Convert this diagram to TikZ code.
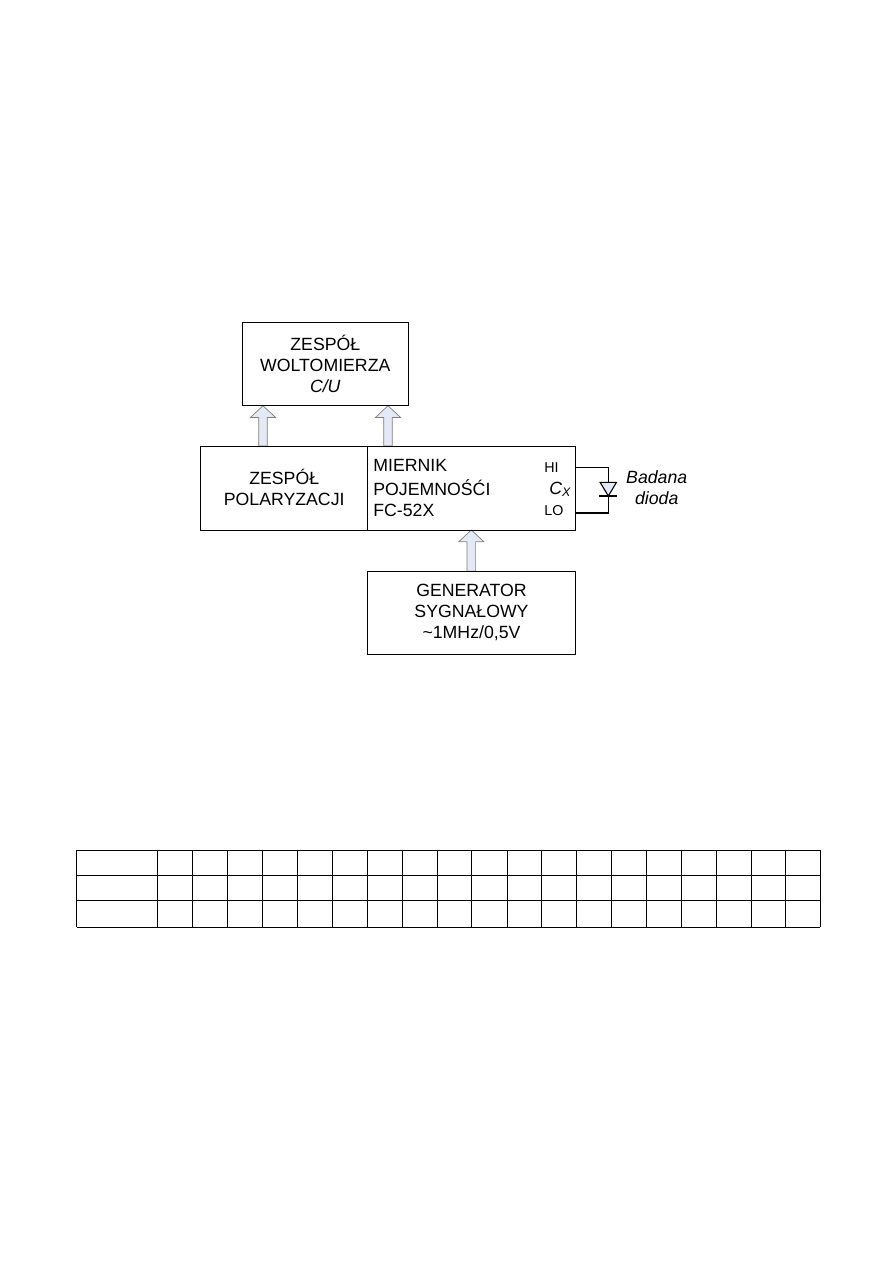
\documentclass[tikz,border=0pt]{standalone}
\usepackage{fontspec}
\setmainfont{Liberation Sans}
\definecolor{arrowblue}{HTML}{E3EAF5}
\begin{document}
\begin{tikzpicture}[x=1pt, y=-1pt, thick,
		box/.style={draw=black, line width=1.1pt, inner sep=0pt, align=center, font=\boxfont},
		lbl/.style={inner sep=0pt, font=\boxfont},
		smalllbl/.style={inner sep=0pt, anchor=base west, font=\fontsize{14.3}{16}\selectfont},
		arrowfill/.style={draw=black!50, line width=0.7pt, fill=arrowblue},
		wire/.style={draw=black, line width=1.1pt},
		grid/.style={draw=black, line width=1.2pt}]
	\providecommand{\boxfont}{\fontsize{17.7}{21}\selectfont}
	\useasboundingbox (0,0) rectangle (893,1263);

	% --- 1. arrows, under the boxes ---
	\coordinate (A1) at (263,446);  % polaryzacja -> woltomierz
	\coordinate (A2) at (388,446);  % miernik -> woltomierz
	\coordinate (A3) at (471.3,571.3); % generator -> miernik
	\coordinate (T1) at (263,405.7);
	\coordinate (T2) at (388,405.7);
	\coordinate (T3) at (471.3,530);
	\foreach \from/\to in {A1/T1, A2/T2, A3/T3}
		\draw[arrowfill] ([xshift=-4.3pt]\from) -- ([xshift=-4.3pt,yshift=-11.7pt]\to)
			-- ([xshift=-12.5pt,yshift=-11.7pt]\to) -- (\to) -- ([xshift=12.5pt,yshift=-11.7pt]\to)
			-- ([xshift=4.3pt,yshift=-11.7pt]\to) -- ([xshift=4.3pt]\from) -- cycle;

	% --- 2. boxes ---
	\node[box, minimum width=166pt, minimum height=83.4pt] (wolt) at (325.3,364)
		{ZESPÓŁ\\WOLTOMIERZA\\\textit{C/U}};
	\node[box, minimum width=167pt, minimum height=83.7pt] (polar) at (284.2,488.2)
		{\raisebox{1.5pt}{ZESPÓŁ}\\\raisebox{1.5pt}{POLARYZACJI}};
	\node[box, minimum width=207.6pt, minimum height=83.7pt] (mier) at (471.5,488.2) {};
	\node[box, minimum width=207.6pt, minimum height=83pt] (gen) at (471.5,612.8)
		{GENERATOR\\SYGNAŁOWY\\\textasciitilde 1MHz/0,5V};

	% --- 3. miernik labels ---
	\node[lbl, anchor=base west] (m1) at (373,471) {MIERNIK};
	\node[lbl, anchor=base west] (m2) at (373,495) {POJEMNOŚĆI};
	\node[lbl, anchor=base west] (m3) at (373,516.5) {FC-52X};
	\node[smalllbl] (hi) at (544,472.5) {HI};
	\node[smalllbl] (lo) at (544,515.5) {LO};
	\node[lbl, anchor=base west, font=\fontsize{17.7}{20}\itshape] (cx) at (549,494) {C\textsubscript{X}};

	% --- 4. diode ---
	\coordinate (Hi) at (mier.east |- 0,467.3);
	\coordinate (Lo) at (mier.east |- 0,513);
	\coordinate (Dt) at (608.3,482.3);
	\coordinate (Db) at (608.3,496);
	\draw[wire] (Hi) -| (Dt);
	\draw[wire] (Lo) -| (Db);
	\draw[wire, fill=arrowblue, line join=miter] ([xshift=-8.2pt]Dt) -- ([xshift=8.2pt]Dt) -- (Db) -- cycle;
	\draw[wire] ([xshift=-9pt]Db) -- ([xshift=9pt]Db);
	\node[lbl, align=center, font=\fontsize{17.7}{21.5}\itshape] (dio) at (656.7,487.5) {Badana\\dioda};

	% --- 5. table ---
	\foreach \xx in {76.5,157.7,192.3,227.3,262.3,297.7,332.3,367.3,402.3,437.3,471.7,507.3,541.3,576.3,611.7,646.3,681.3,716.3,751.3,785.7,820.3}
		\draw[grid] (\xx,850.3) -- (\xx,927.3);
	\foreach \yy in {850.3,875.3,900.3,927.3}
		\draw[grid] (76.5,\yy) -- (820.3,\yy);
\end{tikzpicture}
\end{document}
